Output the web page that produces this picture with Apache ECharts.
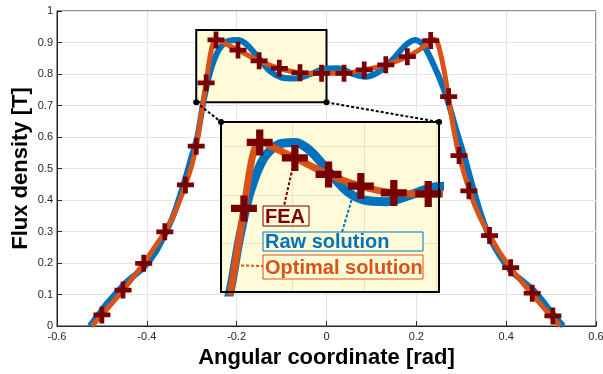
<!DOCTYPE html>
<html>
<head>
<meta charset="utf-8">
<script src="https://cdn.jsdelivr.net/npm/echarts@6/dist/echarts.min.js"></script>
<style>
  html, body { margin: 0; padding: 0; background: #fff; }
  #chart { width: 603px; height: 374px; }
</style>
</head>
<body>
<div id="chart"></div>
<script>
// FEA samples (crosses)
const feaX = [-0.5, -0.453, -0.407, -0.36, -0.314, -0.29, -0.268, -0.246, -0.197, -0.15, -0.105, -0.059, -0.011,
  0.039, 0.084, 0.132, 0.18, 0.232, 0.272, 0.295, 0.317, 0.363, 0.41, 0.458, 0.504];
const feaY = [0.035, 0.114, 0.199, 0.299, 0.448, 0.571, 0.772, 0.908, 0.876, 0.842, 0.818, 0.804, 0.802,
  0.802, 0.813, 0.829, 0.855, 0.906, 0.728, 0.541, 0.429, 0.287, 0.185, 0.104, 0.032];

// raw solution (blue)
const rawX = [-0.527, -0.51, -0.49, -0.47, -0.45, -0.43, -0.407, -0.38, -0.36, -0.34, -0.314, -0.3, -0.288, -0.274,
  -0.259, -0.24, -0.218, -0.196, -0.175, -0.148, -0.125, -0.1, -0.07, -0.035, -0.007, 0.025, 0.06, 0.089,
  0.12, 0.15, 0.175, 0.197, 0.215, 0.237, 0.259, 0.274, 0.289, 0.308, 0.325, 0.345, 0.365, 0.385, 0.41,
  0.435, 0.46, 0.48, 0.5, 0.527];
const rawY = [0, 0.032, 0.07, 0.102, 0.133, 0.158, 0.185, 0.235, 0.29, 0.355, 0.47, 0.54, 0.597, 0.712,
  0.807, 0.876, 0.905, 0.908, 0.89, 0.845, 0.808, 0.789, 0.786, 0.8, 0.815, 0.818, 0.8, 0.791,
  0.81, 0.85, 0.89, 0.908, 0.893, 0.834, 0.76, 0.696, 0.622, 0.533, 0.445, 0.35, 0.275, 0.225, 0.175,
  0.145, 0.115, 0.082, 0.045, 0];

// optimal solution (orange)
const optX = [-0.522, -0.5, -0.476, -0.453, -0.43, -0.407, -0.385, -0.36, -0.336, -0.314, -0.3, -0.29, -0.28,
  -0.268, -0.26, -0.253, -0.245, -0.23, -0.197, -0.15, -0.105, -0.059, -0.011, 0.039, 0.084, 0.132, 0.18,
  0.215, 0.237, 0.245, 0.252, 0.263, 0.272, 0.282, 0.295, 0.319, 0.34, 0.363, 0.385, 0.408, 0.432, 0.456,
  0.48, 0.504, 0.52];
const optY = [0, 0.035, 0.075, 0.114, 0.155, 0.199, 0.245, 0.299, 0.365, 0.448, 0.51, 0.571, 0.66,
  0.772, 0.85, 0.895, 0.91, 0.9, 0.876, 0.842, 0.818, 0.804, 0.802, 0.802, 0.813, 0.829, 0.855,
  0.885, 0.91, 0.905, 0.876, 0.802, 0.723, 0.633, 0.543, 0.426, 0.35, 0.289, 0.235, 0.188, 0.145, 0.104,
  0.064, 0.024, 0];

// zoomed region and inset ranges
const zoomX = [-0.29, 0];
const zoomY = [0.71, 0.94];
const insetX = [-0.3, 0.004];
const insetY = [0.6, 0.95];

const legendNames = ['FEA', 'Raw solution', 'Optimal solution'];

const BLUE = '#0072BD', ORANGE = '#D95319', RED = '#780000', YELLOW = '#fffad7';
const FONT = 'Liberation Sans';
const plus = 'path://M6.5,0h5v6.5h6.5v5h-6.5v6.5h-5v-6.5h-6.5v-5h6.5z';

const pair = (xs, ys) => xs.map((x, i) => [x, ys[i]]);
const raw = pair(rawX, rawY);
const opt = pair(optX, optY);
const fea = pair(feaX, feaY);

const chart = echarts.init(document.getElementById('chart'));

const option = {
  backgroundColor: '#fff',
  animation: false,
  grid: [
    { left: 57, right: 7, top: 11, bottom: 48, show: true, backgroundColor: '#fff',
      borderColor: '#262626', borderWidth: 1, outerBoundsMode: 'none' },
    { left: 221, top: 122, width: 218, height: 170, show: true, backgroundColor: YELLOW,
      borderWidth: 0, zlevel: 1, z: 0, outerBoundsMode: 'none' }
  ],
  xAxis: [
    { type: 'value', gridIndex: 0, min: -0.6, max: 0.6, interval: 0.2,
      name: 'Angular coordinate [rad]', nameLocation: 'middle', nameGap: 20,
      nameTextStyle: { fontSize: 22, fontWeight: 'bold', color: '#000', fontFamily: FONT },
      axisLine: { onZero: false, lineStyle: { color: '#262626' } },
      axisTick: { inside: true, length: 5, lineStyle: { color: '#262626' } },
      axisLabel: { fontSize: 11, color: '#262626', margin: 5, fontFamily: FONT },
      splitLine: { show: true, lineStyle: { color: '#e3e3e3', width: 1 } } },
    { type: 'value', gridIndex: 1, min: insetX[0], max: insetX[1], interval: 0.1, zlevel: 1,
      axisLine: { show: false }, axisTick: { show: false }, axisLabel: { show: false },
      splitLine: { show: true, lineStyle: { color: '#e6e3c8', width: 1 } } }
  ],
  yAxis: [
    { type: 'value', gridIndex: 0, min: 0, max: 1, interval: 0.1,
      name: 'Flux density [T]', nameLocation: 'middle', nameGap: 25, nameRotate: 90,
      nameMoveOverlap: false,
      nameTextStyle: { fontSize: 22, fontWeight: 'bold', color: '#000', fontFamily: FONT },
      axisLine: { onZero: false, lineStyle: { color: '#262626' } },
      axisTick: { inside: true, length: 5, lineStyle: { color: '#262626' } },
      axisLabel: { fontSize: 11, color: '#262626', margin: 4, fontFamily: FONT },
      splitLine: { show: true, lineStyle: { color: '#e3e3e3', width: 1 } } },
    { type: 'value', gridIndex: 1, min: insetY[0], max: insetY[1], interval: 0.1, zlevel: 1,
      axisLine: { show: false }, axisTick: { show: false }, axisLabel: { show: false },
      splitLine: { show: true, lineStyle: { color: '#e6e3c8', width: 1 } } }
  ],
  series: [
    { type: 'line', data: [], z: 1, silent: true,
      markArea: { silent: true,
        itemStyle: { color: YELLOW, borderColor: '#000', borderWidth: 2 },
        data: [[{ coord: [zoomX[0], zoomY[0]] }, { coord: [zoomX[1], zoomY[1]] }]] } },
    { name: legendNames[1], type: 'line', data: raw, smooth: 0.3, showSymbol: false, z: 2,
      lineStyle: { color: BLUE, width: 6 } },
    { name: legendNames[2], type: 'line', data: opt, smooth: 0.3, showSymbol: false, z: 3,
      lineStyle: { color: ORANGE, width: 5 } },
    { name: legendNames[0], type: 'scatter', data: fea, symbol: plus, symbolSize: 17, z: 4,
      itemStyle: { color: RED, opacity: 1 } },
    // inset
    { type: 'line', xAxisIndex: 1, yAxisIndex: 1, data: raw, smooth: 0.3, showSymbol: false,
      zlevel: 1, z: 2, lineStyle: { color: BLUE, width: 9 } },
    { type: 'line', xAxisIndex: 1, yAxisIndex: 1, data: opt, smooth: 0.3, showSymbol: false,
      zlevel: 1, z: 3, lineStyle: { color: ORANGE, width: 7 } },
    { type: 'scatter', xAxisIndex: 1, yAxisIndex: 1, data: fea, symbol: plus, symbolSize: 26,
      zlevel: 1, z: 4, itemStyle: { color: RED, opacity: 1 } }
  ]
};

chart.setOption(option);

// connectors, frame, labels and leader lines
const px = (g, p) => chart.convertToPixel({ gridIndex: g }, p);
const a = px(0, [zoomX[0], zoomY[0]]);
const b = px(0, [zoomX[1], zoomY[0]]);
const c = px(1, [insetX[0], insetY[1]]);
const d = px(1, [insetX[1], insetY[1]]);
const e = px(1, [insetX[1], insetY[0]]);

const feaAnchor = px(1, [-0.197, 0.876]);
const rawAnchor = px(1, [-0.116, 0.799]);
const optAnchor = px(1, [-0.279, 0.655]);

const boxes = [
  { x: 263, y: 206, w: 46, h: 20, color: RED },
  { x: 263, y: 232, w: 160, h: 19, color: BLUE },
  { x: 263, y: 255, w: 160, h: 24, color: ORANGE }
];

const g = [];
g.push({ type: 'rect', zlevel: 1, z: 40,
  shape: { x: c[0], y: c[1], width: e[0] - c[0], height: e[1] - c[1] },
  style: { fill: 'none', stroke: '#000', lineWidth: 2 } });

const dash = (p, q, color) => g.push({ type: 'line', zlevel: 1, z: 50,
  shape: { x1: p[0], y1: p[1], x2: q[0], y2: q[1] },
  style: { stroke: color, lineWidth: 2, lineDash: [3, 2] } });
const dot = (p) => g.push({ type: 'circle', zlevel: 1, z: 51,
  shape: { cx: p[0], cy: p[1], r: 3 }, style: { fill: '#000' } });

dash(a, c, '#000'); dash(b, d, '#000');
[a, b, c, d].forEach(dot);

dash(feaAnchor, [284, 206], RED);
dash(rawAnchor, [342, 232], BLUE);
dash(optAnchor, [263, 266], ORANGE);

boxes.forEach((bx, i) => {
  g.push({ type: 'rect', zlevel: 1, z: 60,
    shape: { x: bx.x, y: bx.y, width: bx.w, height: bx.h },
    style: { fill: YELLOW, stroke: bx.color, lineWidth: 1 } });
  g.push({ type: 'text', zlevel: 1, z: 61, x: bx.x + 2, y: bx.y + bx.h / 2 + 1,
    style: { text: legendNames[i], fill: bx.color, font: 'bold 20px "' + FONT + '"',
      textVerticalAlign: 'middle', verticalAlign: 'middle' } });
});

chart.setOption({ graphic: g });
</script>
</body>
</html>
